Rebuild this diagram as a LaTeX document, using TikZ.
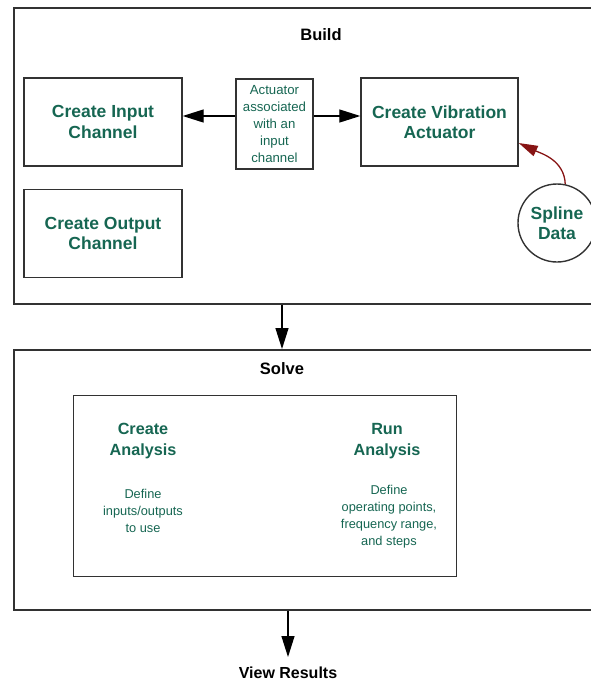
\documentclass[tikz,border=0pt]{standalone}
\usepackage{fontspec}
\setmainfont{Liberation Sans}
\usetikzlibrary{arrows.meta,positioning,calc}

\definecolor{teal}{RGB}{22,102,82}
\definecolor{darkred}{RGB}{135,20,20}
\definecolor{edge}{RGB}{50,50,50}

\begin{document}
\begin{tikzpicture}[x=1pt,y=-1pt,
  stage/.style={draw=edge,line width=1.5pt,anchor=north west,inner sep=0pt},
  box/.style={draw=edge,line width=1.4pt,minimum width=158pt,minimum height=88pt,
              align=center,text=teal,font=\fontsize{17.5}{20.5}\selectfont\bfseries},
  note/.style={draw=edge,line width=1.3pt,minimum width=77pt,minimum height=90pt,inner sep=1pt,
               align=center,text=teal,font=\fontsize{13.2}{17}\selectfont},
  title/.style={font=\fontsize{16.5}{20}\selectfont\bfseries},
  head/.style={align=center,text=teal,font=\fontsize{16.2}{21.5}\selectfont\bfseries},
  desc/.style={align=center,text=teal,font=\fontsize{12.8}{17}\selectfont},
  arr/.style={-{Triangle[length=21pt,width=13pt]},line width=1.3pt},
  redarr/.style={-{Triangle[length=19pt,width=11pt]},line width=1.3pt,darkred}
]
  \clip (0,0) rectangle (591,681);

  % Build stage
  \node[stage,minimum width=600pt,minimum height=296pt] (build) at (13,7) {};
  \node[title] (buildtitle) at (321,35) {Build};
  \node[box] (inch)   at (103,122)   {Create Input\\Channel};
  \node[box] (outch)  at (103,233.5) {Create Output\\Channel};
  \node[note] (assoc) at (274.5,124) {Actuator\\associated\\with an\\input\\channel};
  \node[box,minimum width=157pt] (vibact) at (439.5,122) {Create Vibration\\Actuator};
  \node[circle,draw=edge,line width=1.4pt,minimum size=78pt,inner sep=0pt,
        align=center,text=teal,font=\fontsize{17.5}{20.5}\selectfont\bfseries]
        (spline) at (557,223) {Spline\\Data};

  \draw[arr] (assoc.west |- 0,116) -- (inch.east |- 0,116);
  \draw[arr] (assoc.east |- 0,116) -- (vibact.west |- 0,116);
  \draw[redarr] (spline.78) to[out=92,in=-25] (vibact.east |- 0,143);

  % Solve stage
  \node[stage,minimum width=600pt,minimum height=260pt] (solve) at (13,349) {};
  \node[title] (solvetitle) at (282,369) {Solve};
  \node[draw=edge,line width=1.4pt,minimum width=383pt,minimum height=181pt,
        anchor=north west,inner sep=0pt] (analysis) at (73,395) {};
  \node[head] (cana) at (143,441) {Create\\Analysis};
  \node[desc] (canadesc) at (143,511) {Define\\inputs/outputs\\to use};
  \node[head] (runa) at (387,441) {Run\\Analysis};
  \node[desc] (runadesc) at (389,516.5) {Define\\operating points,\\frequency range,\\and steps};

  \draw[arr] (solvetitle |- build.south) -- (solvetitle |- solve.north);

  % result
  \node[title,font=\fontsize{16}{20}\selectfont\bfseries] (results) at (288,673) {View Results};
  \draw[arr] (results |- solve.south) -- (results |- 0,657);
\end{tikzpicture}
\end{document}
